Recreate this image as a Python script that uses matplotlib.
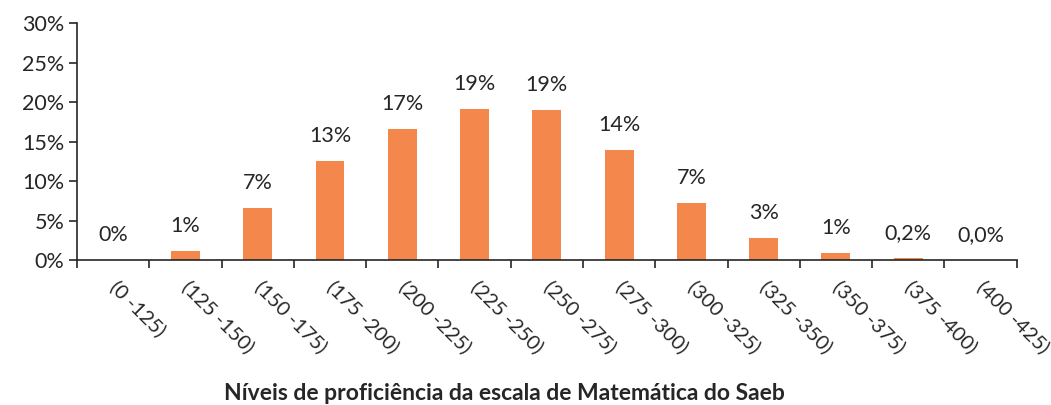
import matplotlib
matplotlib.use("Agg")
import matplotlib.pyplot as plt
import numpy as np
from matplotlib.ticker import FixedLocator

plt.rcParams['font.family'] = ['Lato', 'DejaVu Sans']

# Faixas de proficiencia e percentuais
faixas = ["(0 -125)", "(125 -150)", "(150 -175)", "(175 -200)", "(200 -225)",
          "(225 -250)", "(250 -275)", "(275 -300)", "(300 -325)", "(325 -350)",
          "(350 -375)", "(375 -400)", "(400 -425)"]
percentuais = [0.0, 1.15, 6.6, 12.5, 16.6, 19.15, 19.0, 13.9, 7.2, 2.85, 0.9, 0.2, 0.0]
rotulos = ["0%", "1%", "7%", "13%", "17%", "19%", "19%", "14%", "7%", "3%", "1%", "0,2%", "0,0%"]
yticks = [0, 5, 10, 15, 20, 25, 30]

cor = "#F4874B"
texto = "#262626"

fig = plt.figure(figsize=(10.51, 4.05), dpi=100)
ax = fig.add_axes([0.0733, 0.358, 0.894, 0.585])

x = np.arange(len(faixas))
ax.bar(x, percentuais, width=0.4, color=cor)

for xi, v, r in zip(x, percentuais, rotulos):
    ax.annotate(r, (xi, v), xytext=(0, 18), textcoords="offset points",
                ha="center", va="center", fontsize=15.5, color=texto)

ax.set_xlim(-0.5, len(faixas) - 0.5)
ax.set_ylim(0, 30)
ax.set_yticks(yticks)
ax.set_yticklabels([f"{t}%" for t in yticks], fontsize=15.5, color=texto)

ax.set_xticks(x)
ax.set_xticklabels(faixas, rotation=-45, ha="left", va="center",
                   rotation_mode="anchor", fontsize=14.5, color=texto)
ax.tick_params(axis="x", which="major", length=0, pad=17)
ax.xaxis.set_minor_locator(FixedLocator(np.arange(-0.5, len(faixas), 1.0)))
ax.tick_params(axis="x", which="minor", length=6, width=1.2, color=texto)
ax.tick_params(axis="y", length=6, width=1.2, color=texto, pad=3)

for s in ["top", "right"]:
    ax.spines[s].set_visible(False)
for s in ["left", "bottom"]:
    ax.spines[s].set_color(texto)
    ax.spines[s].set_linewidth(1.2)

fig.text(504 / 1051, 1 - 393 / 405, "Níveis de proficiência da escala de Matemática do Saeb",
         ha="center", va="center", fontsize=16.5, fontweight="bold", color=texto)

fig.savefig("out.png", dpi=100)
